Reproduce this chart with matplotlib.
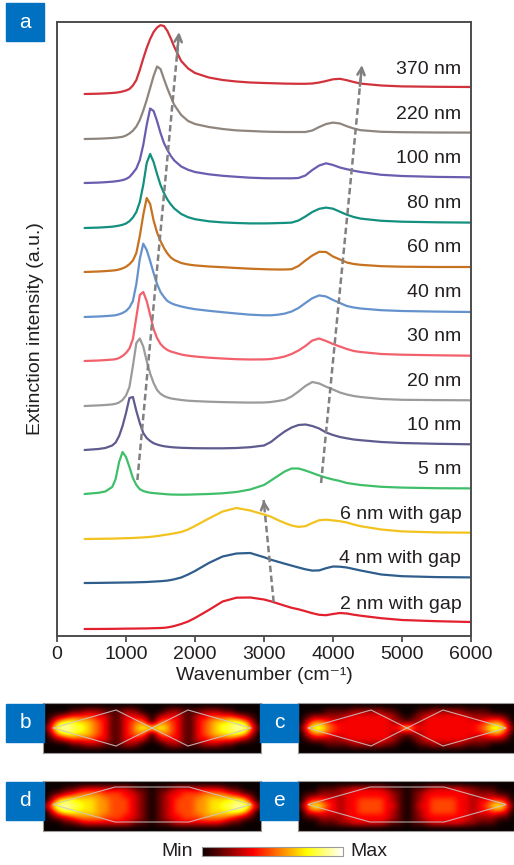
import numpy as np
import matplotlib
matplotlib.use("Agg")
import matplotlib.pyplot as plt
from matplotlib.patches import Rectangle, Polygon
from matplotlib.cm import ScalarMappable

plt.rcParams['font.family'] = ['Liberation Sans', 'DejaVu Sans']

W, H = 514, 865

wavenumber = [400, 600, 700, 800, 850, 900, 950, 1000, 1050, 1100,
              1150, 1200, 1250, 1300, 1350, 1400, 1450, 1500, 1550, 1600,
              1650, 1700, 1800, 1900, 2000, 2200, 2400, 2600, 2800, 3000,
              3100, 3200, 3300, 3400, 3500, 3600, 3700, 3800, 3900, 4000,
              4100, 4200, 4300, 4400, 4700, 5000, 5500, 6000]

# extinction above each curve's own baseline (a.u.)
ext_370nm = [0, 0.3, 0.6, 1, 1.3, 1.8, 2.5, 3.5, 5, 8.5,
             14, 24, 35.5, 46, 55, 62, 66.5, 68.8, 68, 63,
             55.5, 47, 33, 25.5, 21, 16.5, 14, 12.5, 11.5, 11,
             10.8, 10.6, 10.4, 10.3, 10.2, 10.2, 10.5, 11.5, 13, 14.7,
             15.2, 13.8, 12, 10.4, 8.5, 7.6, 7.2, 7]
ext_220nm = [0, 0.3, 0.6, 1, 1.3, 1.7, 2.2, 3.5, 5.5, 8.3,
             12.5, 19, 28.3, 39, 51, 63, 72.5, 70, 60, 50.5,
             42, 34, 24, 18, 15, 12, 10, 8.6, 8, 7.4,
             7.2, 7.1, 7, 7, 7, 7, 8.5, 12, 15, 16.4,
             15.5, 12.8, 10.5, 8.8, 7.2, 6.8, 6.5, 6.4]
ext_100nm = [0, 0.4, 0.8, 1.3, 1.7, 2.2, 2.9, 4, 6, 10,
             14.5, 23, 38, 58, 74.5, 72, 62, 50, 40, 33,
             27, 22.5, 16.5, 13.2, 11, 8.7, 7.2, 6.2, 5.3, 4.8,
             4.7, 4.7, 4.7, 4.7, 5, 7.5, 13, 17.5, 19.7, 18,
             15.5, 13.8, 12.3, 11, 8.2, 7, 6.1, 5.7]
ext_80nm = [0, 0.4, 0.8, 1.3, 1.8, 2.4, 3.2, 4.5, 6.8, 10.5,
            16, 26, 43, 65, 74, 66, 54, 43, 35, 28.5,
            23.5, 19.5, 14, 10.8, 8.8, 6.7, 5.6, 5, 4.6, 4.6,
            4.7, 4.9, 5.1, 5.4, 7.5, 11.5, 16, 19.2, 20.4, 19.3,
            16.3, 13.3, 11, 9.4, 7.2, 6.3, 5.7, 5.4]
ext_60nm = [0, 0.5, 0.9, 1.4, 1.8, 2.5, 3.6, 5.2, 7.8, 11.5,
            19, 36, 57, 74, 68, 51.5, 39.5, 31, 24, 18.5,
            14.5, 12, 9, 7.5, 6.6, 5.5, 4.8, 4, 3.3, 2.8,
            2.6, 2.5, 2.5, 2.8, 6, 11.5, 16.5, 20.2, 20, 15.5,
            12.5, 9.5, 8, 7.2, 5.8, 5.3, 5, 5]
ext_40nm = [0, 0.5, 0.9, 1.4, 1.8, 2.7, 4, 6, 9.5, 16,
            33, 58, 73.3, 67, 56, 44, 33, 25, 20, 16,
            14, 12.5, 10.5, 9, 7.8, 6.2, 4.8, 3.5, 2.3, 1.7,
            1.7, 2.3, 3.4, 5.5, 9, 14, 18.8, 21.6, 20.5, 17,
            14, 11, 9.5, 8.5, 6.8, 6, 5.4, 5]
ext_30nm = [0, 0.5, 0.9, 1.4, 1.8, 3, 5, 8, 12.5, 22,
            44, 66, 69, 60, 46, 32, 23, 17, 13.5, 11,
            9.5, 8.5, 6.5, 5.3, 4.5, 3.3, 2.5, 1.8, 1.5, 1.6,
            2, 3, 4.5, 7, 10.5, 15, 20.5, 22.5, 20, 17,
            14.5, 12, 10, 9, 7, 6.3, 5.7, 5.3]
ext_20nm = [0, 0.6, 1, 1.6, 2.2, 3.5, 6, 10.5, 19, 40,
            63, 67.5, 59.5, 45, 32.5, 23, 16, 12.2, 10, 8.6,
            7.6, 7, 6, 5.3, 4.9, 4.3, 3.9, 3.6, 3.4, 3.5,
            4, 5, 6.2, 9.5, 14.5, 20, 24, 22.5, 19.3, 16.5,
            13.5, 11.5, 10, 9, 7, 6.2, 5.9, 5.7]
ext_10nm = [0, 1, 2, 4.5, 7.5, 14, 24, 37, 52, 53,
            39, 27, 17, 12, 9, 6.8, 5.5, 4.5, 3.8, 3.3,
            2.9, 2.6, 2.2, 2, 1.8, 1.7, 1.7, 2, 2.8, 4.5,
            8, 13.5, 18.5, 22.5, 25, 25.5, 24, 21.5, 17.5, 15,
            13, 11.7, 10.5, 9.8, 8, 7, 6.2, 5.7]
ext_5nm = [0, 1.2, 2.5, 7, 15, 32, 42, 37, 27, 16,
           9, 4.8, 3, 2, 1.3, 0.9, 0.6, 0.3, 0, -0.3,
           -0.5, -0.6, -0.7, -0.6, -0.4, 0, 0.7, 2, 4.5, 9,
           13.5, 18, 22.5, 25.5, 25.5, 23.5, 21, 18.5, 16.3, 14.5,
           13, 11, 10, 9, 7.2, 6.4, 5.8, 5.6]
ext_6nm_gap = [0, 0.2, 0.3, 0.4, 0.5, 0.6, 0.7, 0.8, 0.9, 1,
               1.2, 1.4, 1.6, 1.8, 2.1, 2.5, 2.9, 3.4, 4, 4.5,
               5.1, 5.7, 7, 9.5, 13, 20.5, 27.5, 31, 28.5, 24.5,
               22.3, 19, 16, 13.5, 12.1, 12.8, 16, 18.8, 19.3, 18.6,
               17.8, 16.5, 14.5, 12.8, 9.5, 7.6, 6.6, 6.3]
ext_4nm_gap = [0, 0.1, 0.2, 0.3, 0.35, 0.4, 0.45, 0.5, 0.55, 0.6,
               0.7, 0.8, 0.9, 1, 1.2, 1.4, 1.6, 1.8, 2.1, 2.4,
               3, 3.7, 5.5, 8.5, 12, 20, 26.5, 29.5, 30, 25.8,
               23.3, 21.3, 19.3, 17.4, 15.5, 13.7, 12.4, 12.6, 14.8, 16.5,
               16.3, 15.5, 14, 12.5, 8.5, 6.8, 5.9, 5.6]
ext_2nm_gap = [0, 0.05, 0.1, 0.15, 0.2, 0.25, 0.3, 0.35, 0.4, 0.4,
               0.45, 0.5, 0.55, 0.6, 0.7, 0.8, 0.9, 1, 1.2, 1.6,
               2.2, 3, 5, 7.5, 11, 19, 27.5, 31.3, 31.5, 29.5,
               27.7, 25.5, 23.3, 21.2, 19.7, 17.8, 15.8, 14.2, 13.8, 15,
               16, 15.5, 14.3, 13.3, 10.8, 9, 7.8, 7]

# bottom to top
spectra = [ext_2nm_gap, ext_4nm_gap, ext_6nm_gap, ext_5nm, ext_10nm, ext_20nm,
           ext_30nm, ext_40nm, ext_60nm, ext_80nm, ext_100nm, ext_220nm, ext_370nm]
labels = ["2 nm with gap", "4 nm with gap", "6 nm with gap", "5 nm", "10 nm", "20 nm",
          "30 nm", "40 nm", "60 nm", "80 nm", "100 nm", "220 nm", "370 nm"]
offsets = [7, 53, 97, 142, 186, 230, 275, 319, 364, 408, 453, 497, 542]
colors = ['#E3202E', '#2F5D8C', '#F2C21E', '#3FBF6A', '#5E5B8E', '#9B9B9B',
          '#F2606C', '#6592CC', '#C77220', '#14907F', '#6A5DB0', '#8E857E', '#D2323C']

# peak-shift guide arrows: (tail, head)
arrows = [((1165, 156), (1770, 604)),
          ((3827, 153), (4420, 571)),
          ((3140, 34), (2995, 136))]

# near-field maps, intensity 0-9, top half rows (mirrored about the long axis)
map_b = ["00000000000000000" + "0000000000000000",
         "00001122211122100" + "0122111222110000",
         "01234444331133320" + "2333113344443210",
         "03677665431134540" + "4543113456677630",
         "15887765431134677" + "7643113456778851"]
map_c = ["00000000000000000" + "0000000000000000",
         "00001111222221100" + "0112222211110000",
         "01222223333333210" + "1233333332222210",
         "03554333333333221" + "2233333333345530",
         "15775433333333347" + "4333333333457751"]
map_d = ["00000000000000000" + "0000000000000000",
         "00011233333332110" + "1123333333211000",
         "01234555544433210" + "1233444555543210",
         "03677666554443210" + "1234445566677630",
         "26887766554443210" + "1234445566778862"]
map_e = ["00000000000000000" + "0000000000000000",
         "00011122333332110" + "1123333322111000",
         "01122223333333210" + "1233333332222110",
         "03443323344443210" + "1234444332334430",
         "15764323344443310" + "1334444332346751"]

bowtie = [[(0.045, 0.5), (0.335, 0.86), (0.5, 0.5), (0.335, 0.14)],
          [(0.5, 0.5), (0.665, 0.86), (0.955, 0.5), (0.665, 0.14)]]
hexagon = [[(0.045, 0.53), (0.33, 0.88), (0.67, 0.88), (0.955, 0.53),
            (0.67, 0.18), (0.33, 0.18)]]


def px_rect(x, y, w, h):
    return [x / W, 1 - (y + h) / H, w / W, h / H]


def tag(x, y, w, h, letter):
    fig.add_artist(Rectangle((x / W, 1 - (y + h) / H), w / W, h / H,
                             transform=fig.transFigure, color='#0070C0', zorder=5))
    fig.text((x + w / 2) / W, 1 - (y + h / 2) / H, letter, color='white',
             ha='center', va='center', fontsize=15, zorder=6)


fig = plt.figure(figsize=(W / 100, H / 100), dpi=100)

# ---- panel a: spectra
ax = fig.add_axes(px_rect(57, 22, 414, 614))
for y, base, lab, col in zip(spectra, offsets, labels, colors):
    ax.plot(wavenumber, np.array(y) + base, color=col, lw=1.6, solid_capstyle='round')
    ax.text(5860, base + 24.5, lab, ha='right', va='center', fontsize=14, color='#231f20')

for (x0, y0), (x1, y1) in arrows:
    ax.plot([x0, x1], [y0, y1], ls=(0, (2.6, 1.4)), color='#808080', lw=1.8)
    ax.annotate('', xy=(x1, y1), xytext=(x0 + 0.95 * (x1 - x0), y0 + 0.95 * (y1 - y0)),
                arrowprops=dict(arrowstyle='->', color='#808080', lw=1.8,
                                mutation_scale=13, shrinkA=0, shrinkB=0))

ax.set_xlim(0, 6000)
ax.set_ylim(0, 614)
ax.set_xticks([0, 1000, 2000, 3000, 4000, 5000, 6000])
ax.set_yticks([])
ax.tick_params(axis='x', direction='out', length=4, width=1.3, labelsize=14,
               color='#4d4d4d', labelcolor='#231f20', pad=3)
for s in ax.spines.values():
    s.set_color('#4d4d4d')
    s.set_linewidth(1.4)
ax.set_xlabel('Wavenumber (cm⁻¹)', fontsize=14, color='#231f20', labelpad=3)
ax.set_ylabel('Extinction intensity (a.u.)', fontsize=14, color='#231f20', labelpad=9)
tag(6, 3, 38, 38, 'a')

# ---- panels b-e: field maps
panels = [(43, 703, map_b, bowtie, 'b', (6, 704)),
          (298, 703, map_c, bowtie, 'c', (260, 704)),
          (43, 781, map_d, hexagon, 'd', (6, 782)),
          (298, 781, map_e, hexagon, 'e', (260, 782))]
for x, y, rows, outline, letter, (tx, ty) in panels:
    m = fig.add_axes(px_rect(x, y, 218, 50))
    grid = np.array([[int(c) for c in r] for r in rows + rows[3::-1]]) / 8.5
    m.imshow(grid, cmap='hot', vmin=0, vmax=1, interpolation='bicubic',
             aspect='auto', extent=(0, 1, 0, 1), origin='upper')
    for poly in outline:
        m.add_patch(Polygon(poly, closed=True, fill=False, ec='#c8c8c8', lw=0.8, alpha=0.85))
    m.set_xlim(0, 1)
    m.set_ylim(0, 1)
    m.set_xticks([])
    m.set_yticks([])
    for s in m.spines.values():
        s.set_color('#9a9a9a')
        s.set_linewidth(0.8)
    tag(tx, ty, 38, 38, letter)

# ---- colour scale
cax = fig.add_axes(px_rect(202, 847, 141, 8.5))
cb = fig.colorbar(ScalarMappable(cmap='hot'), cax=cax, orientation='horizontal')
cb.set_ticks([])
cb.outline.set_edgecolor('#9a9a9a')
cb.outline.set_linewidth(0.8)
fig.text(193 / W, 1 - 852 / H, 'Min', ha='right', va='center', fontsize=14, color='#231f20')
fig.text(350 / W, 1 - 852 / H, 'Max', ha='left', va='center', fontsize=14, color='#231f20')

fig.savefig('out.png', dpi=100)
